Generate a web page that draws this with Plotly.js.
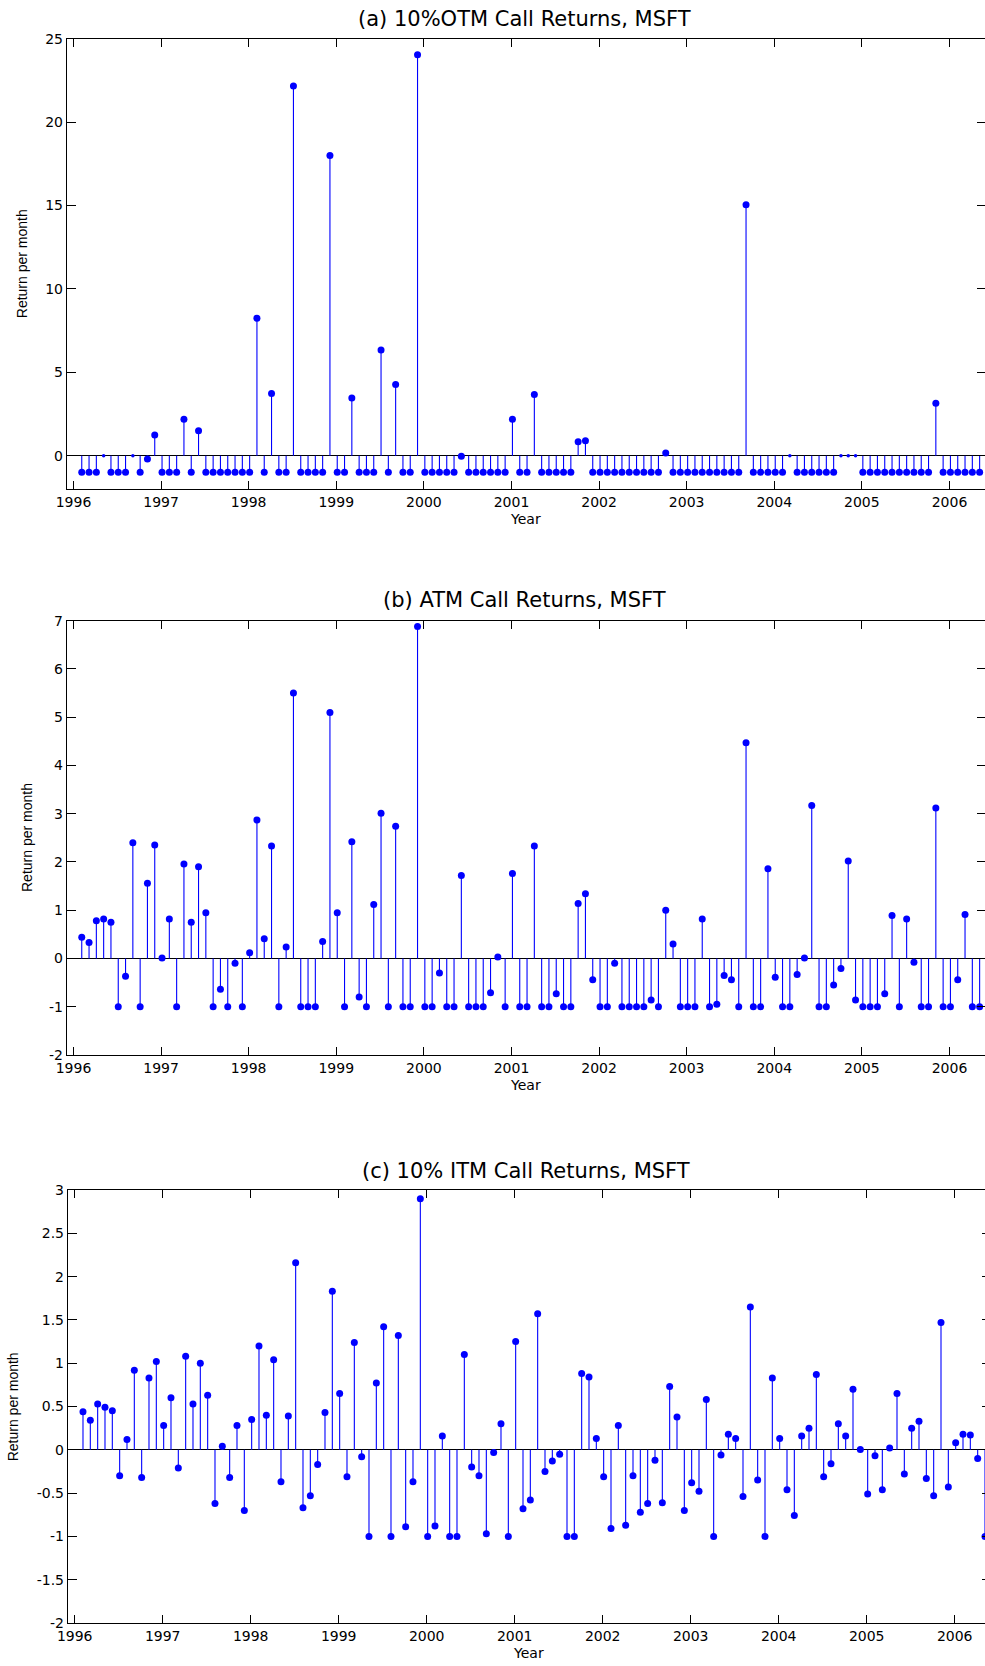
<!DOCTYPE html>
<html>
<head>
<meta charset="utf-8">
<script src="https://cdn.plot.ly/plotly-3.0.1.min.js"></script>
<style>
html, body { margin: 0; padding: 0; overflow: hidden; background: #fff; }
#chart { width: 992px; height: 1666px; }
</style>
</head>
<body>
<div id="chart"></div>
<script>
// ---- data (monthly returns, Feb 1996 onward) ----
const startYear = 1996;
const startMonth = 2;       // February
const dayFraction = 0.011;  // position within the month (in years)

const otmReturns = [
  -1, -1, -1, 0, -1, -1, -1, 0, -1, -0.2, 1.24, -1,
  -1, -1, 2.18, -1, 1.5, -1, -1, -1, -1, -1, -1, -1,
  8.24, -1, 3.72, -1, -1, 22.16, -1, -1, -1, -1, 18.0, -1,
  -1, 3.46, -1, -1, -1, 6.34, -1, 4.26, -1, -1, 24.04, -1,
  -1, -1, -1, -1, -0.03, -1, -1, -1, -1, -1, -1, 2.18,
  -1, -1, 3.66, -1, -1, -1, -1, -1, 0.84, 0.9, -1, -1,
  -1, -1, -1, -1, -1, -1, -1, -1, 0.16, -1, -1, -1,
  -1, -1, -1, -1, -1, -1, -1, 15.04, -1, -1, -1, -1,
  -1, 0, -1, -1, -1, -1, -1, -1, 0, 0, 0, -1,
  -1, -1, -1, -1, -1, -1, -1, -1, -1, 3.14, -1, -1,
  -1, -1, -1, -1
];

const atmReturns = [
  0.44, 0.33, 0.78, 0.82, 0.75, -1, -0.37, 2.40, -1, 1.56, 2.35, 0.01,
  0.82, -1, 1.96, 0.75, 1.90, 0.95, -1, -0.64, -1, -0.10, -1, 0.12,
  2.87, 0.41, 2.33, -1, 0.24, 5.50, -1, -1, -1, 0.35, 5.10, 0.95,
  -1, 2.42, -0.80, -1, 1.12, 3.01, -1, 2.74, -1, -1, 6.88, -1,
  -1, -0.30, -1, -1, 1.72, -1, -1, -1, -0.71, 0.03, -1, 1.76,
  -1, -1, 2.33, -1, -1, -0.73, -1, -1, 1.14, 1.34, -0.44, -1,
  -1, -0.10, -1, -1, -1, -1, -0.86, -1, 1.00, 0.30, -1, -1,
  -1, 0.82, -1, -0.95, -0.35, -0.44, -1, 4.47, -1, -1, 1.86, -0.39,
  -1, -1, -0.33, 0.01, 3.17, -1, -1, -0.55, -0.21, 2.02, -0.86, -1,
  -1, -1, -0.73, 0.89, -1, 0.82, -0.08, -1, -1, 3.12, -1, -1,
  -0.44, 0.91, -1, -1
];

const itmReturns = [
  0.44, 0.34, 0.53, 0.49, 0.45, -0.30, 0.12, 0.92, -0.32, 0.83, 1.02, 0.28,
  0.60, -0.21, 1.08, 0.53, 1.00, 0.63, -0.62, 0.04, -0.32, 0.28, -0.70, 0.35,
  1.20, 0.40, 1.04, -0.37, 0.39, 2.16, -0.67, -0.53, -0.17, 0.43, 1.83, 0.65,
  -0.31, 1.24, -0.08, -1.0, 0.77, 1.42, -1.0, 1.32, -0.89, -0.37, 2.90, -1.0,
  -0.88, 0.16, -1.0, -1.0, 1.10, -0.20, -0.30, -0.97, -0.03, 0.30, -1.0, 1.25,
  -0.68, -0.58, 1.57, -0.25, -0.13, -0.05, -1.0, -1.0, 0.88, 0.84, 0.13, -0.31,
  -0.91, 0.28, -0.87, -0.30, -0.72, -0.62, -0.12, -0.61, 0.73, 0.38, -0.70, -0.38,
  -0.48, 0.58, -1.0, -0.06, 0.18, 0.13, -0.54, 1.65, -0.35, -1.0, 0.83, 0.13,
  -0.46, -0.76, 0.16, 0.25, 0.87, -0.31, -0.16, 0.30, 0.16, 0.70, 0.004, -0.51,
  -0.07, -0.46, 0.02, 0.65, -0.28, 0.25, 0.33, -0.33, -0.53, 1.47, -0.43, 0.08,
  0.18, 0.17, -0.10, -1.0
];

const yearTicks = [1996, 1997, 1998, 1999, 2000, 2001, 2002, 2003, 2004, 2005, 2006];
const yearLabels = ['1996', '1997', '1998', '1999', '2000', '2001', '2002', '2003', '2004', '2005', '2006'];

const otmTicks = [0, 5, 10, 15, 20, 25];
const otmTickLabels = ['0', '5', '10', '15', '20', '25'];
const atmTicks = [-2, -1, 0, 1, 2, 3, 4, 5, 6, 7];
const atmTickLabels = ['-2', '-1', '0', '1', '2', '3', '4', '5', '6', '7'];
const itmTicks = [-2, -1.5, -1, -0.5, 0, 0.5, 1, 1.5, 2, 2.5, 3];
const itmTickLabels = ['-2', '-1.5', '-1', '-0.5', '0', '0.5', '1', '1.5', '2', '2.5', '3'];

const panelTitles = ['(a) 10%OTM Call Returns, MSFT', '(b) ATM Call Returns, MSFT', '(c) 10% ITM Call Returns, MSFT'];
const xTitle = 'Year';
const yTitle = 'Return per month';

// ---- build ----
const W = 992, H = 1666;
function monthX(i) { return startYear + (startMonth - 1 + i) / 12 + dayFraction; }

const blue = '#0000ff';
function stemTraces(vals, xa, ya, smallZero) {
  const sx = [], sy = [], mx = [], my = [], ms = [];
  vals.forEach((v, i) => {
    const x = monthX(i);
    sx.push(x, x, null); sy.push(0, v, null);
    mx.push(x); my.push(v);
    ms.push(smallZero && v === 0 ? 3.5 : 7);
  });
  return [
    { x: sx, y: sy, xaxis: xa, yaxis: ya, mode: 'lines', type: 'scatter',
      line: { color: blue, width: 1.1 }, hoverinfo: 'skip', cliponaxis: true },
    { x: mx, y: my, xaxis: xa, yaxis: ya, mode: 'markers', type: 'scatter',
      marker: { color: blue, size: ms, opacity: 1, line: { width: 0 } }, cliponaxis: true }
  ];
}

const data = [].concat(
  stemTraces(otmReturns, 'x', 'y', true),
  stemTraces(atmReturns, 'x2', 'y2', false),
  stemTraces(itmReturns, 'x3', 'y3', false)
);

const tickFont = { family: 'DejaVu Sans', size: 14, color: '#000' };
function xAxis(domPx, range, anchor) {
  return {
    domain: [domPx[0] / W, domPx[1] / W], range: range, anchor: anchor,
    tickmode: 'array', tickvals: yearTicks, ticktext: yearLabels,
    ticks: 'inside', ticklen: 8, tickwidth: 1, tickcolor: '#000',
    showline: true, linecolor: '#000', linewidth: 1.2, mirror: 'ticks',
    showgrid: false, zeroline: false, tickfont: tickFont, fixedrange: true
  };
}
function yAxis(topPx, botPx, range, tv, tt, anchor) {
  return {
    domain: [1 - botPx / H, 1 - topPx / H], range: range, anchor: anchor,
    tickmode: 'array', tickvals: tv, ticktext: tt,
    ticks: 'inside', ticklen: 9, tickwidth: 1, tickcolor: '#000',
    showline: true, linecolor: '#000', linewidth: 1.2, mirror: 'ticks',
    showgrid: false, zeroline: true, zerolinecolor: '#000', zerolinewidth: 1,
    tickfont: tickFont, fixedrange: true
  };
}

function ann(text, xPx, yPx, font, angle) {
  return { text: text, xref: 'paper', yref: 'paper', x: xPx / W, y: 1 - yPx / H,
           xanchor: 'center', yanchor: 'middle', showarrow: false,
           font: font, textangle: angle || 0 };
}
const titleFont = { family: 'DejaVu Sans', size: 21, color: '#000' };
const xlabFont = { family: 'DejaVu Sans', size: 14, color: '#000' };
const ylabFont = { family: 'Liberation Sans', size: 14, color: '#000' };

const layout = {
  width: W, height: H,
  margin: { l: 0, r: 0, t: 0, b: 0 },
  paper_bgcolor: '#fff', plot_bgcolor: '#fff',
  showlegend: false,
  xaxis: xAxis([67, 986], [1995.926, 2006.417], 'y'),
  yaxis: yAxis(38.7, 489, [-2, 25], otmTicks, otmTickLabels, 'x'),
  xaxis2: xAxis([67, 986], [1995.926, 2006.417], 'y2'),
  yaxis2: yAxis(620.7, 1055, [-2, 7], atmTicks, atmTickLabels, 'x2'),
  xaxis3: xAxis([68, 991], [1995.924, 2006.4125], 'y3'),
  yaxis3: yAxis(1190, 1623, [-2, 3], itmTicks, itmTickLabels, 'x3'),
  annotations: [
    ann(panelTitles[0], 524, 19, titleFont),
    ann(panelTitles[1], 524, 600, titleFont),
    ann(panelTitles[2], 526, 1171, titleFont),
    ann(xTitle, 525, 519, xlabFont),
    ann(xTitle, 525, 1085, xlabFont),
    ann(xTitle, 528, 1653, xlabFont),
    ann(yTitle, 21.7, 263.5, ylabFont, -90),
    ann(yTitle, 27, 838, ylabFont, -90),
    ann(yTitle, 13.3, 1407, ylabFont, -90)
  ]
};

Plotly.newPlot('chart', data, layout, { staticPlot: true, displayModeBar: false });
</script>
</body>
</html>
